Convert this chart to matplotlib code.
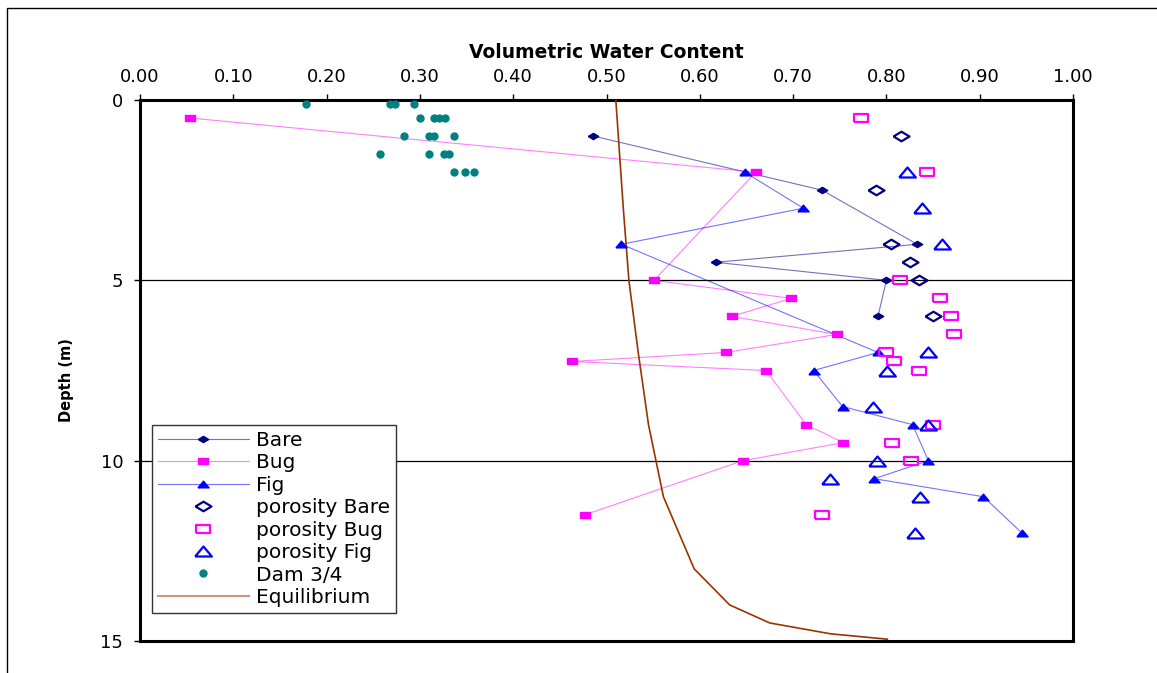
import matplotlib
matplotlib.use("Agg")
import matplotlib.pyplot as plt
from matplotlib.patches import Rectangle

plt.rcParams['font.family'] = ['DejaVu Sans']

# measured moisture profiles (depth in m, volumetric water content)
bare_depth = [1.0, 2.5, 4.0, 4.5, 5.0, 6.0]
bare_vwc = [0.486, 0.731, 0.833, 0.617, 0.800, 0.791]

bug_depth = [0.5, 2.0, 5.0, 5.5, 6.0, 6.5, 7.0, 7.25, 7.5, 9.0, 9.5, 10.0, 11.5]
bug_vwc = [0.054, 0.660, 0.551, 0.698, 0.634, 0.747, 0.628, 0.463, 0.671,
           0.714, 0.754, 0.646, 0.477]

fig_depth = [2.0, 3.0, 4.0, 7.0, 7.5, 8.5, 9.0, 10.0, 10.5, 11.0, 12.0]
fig_vwc = [0.648, 0.711, 0.516, 0.791, 0.722, 0.753, 0.828, 0.845, 0.787,
           0.904, 0.945]

# porosity at the same depths
por_bare_depth = [1.0, 2.5, 4.0, 4.5, 5.0, 6.0]
por_bare = [0.816, 0.789, 0.805, 0.825, 0.835, 0.850]

por_bug_depth = [0.5, 2.0, 5.0, 5.5, 6.0, 6.5, 7.0, 7.25, 7.5, 9.0, 9.5, 10.0, 11.5]
por_bug = [0.773, 0.844, 0.815, 0.857, 0.869, 0.872, 0.800, 0.808, 0.835,
           0.850, 0.806, 0.826, 0.731]

por_fig_depth = [2.0, 3.0, 4.0, 7.0, 7.5, 8.5, 9.0, 10.0, 10.5, 11.0, 12.0]
por_fig = [0.822, 0.838, 0.860, 0.845, 0.801, 0.786, 0.845, 0.790, 0.740,
           0.836, 0.831]

dam_depth = [0.1, 0.1, 0.1, 0.1,
             0.5, 0.5, 0.5, 0.5,
             1.0, 1.0, 1.0, 1.0,
             1.5, 1.5, 1.5, 1.5,
             2.0, 2.0, 2.0]
dam_vwc = [0.178, 0.268, 0.273, 0.294,
           0.300, 0.315, 0.321, 0.327,
           0.283, 0.310, 0.315, 0.337,
           0.257, 0.310, 0.326, 0.331,
           0.337, 0.348, 0.358]

eq_depth = [0, 3, 5, 7, 9, 11, 13, 14, 14.5, 14.8, 14.95]
eq_vwc = [0.510, 0.518, 0.524, 0.534, 0.545, 0.561, 0.594, 0.632, 0.675,
          0.740, 0.801]

# flattened marker shapes (the original is stretched sideways)
diamond = [(-1, 0), (0, 0.6), (1, 0), (0, -0.6), (-1, 0)]
rect = [(-1, -0.6), (1, -0.6), (1, 0.6), (-1, 0.6), (-1, -0.6)]
tri = [(-1, -0.6), (1, -0.6), (0, 0.6), (-1, -0.6)]

NAVY, MAGENTA, BLUE, TEAL, BROWN = '#000080', '#FF00FF', '#0000FF', '#008080', '#993300'
navy_line = (0, 0, 0.5, 0.55)
pink_line = (1, 0, 1, 0.5)
blue_line = (0, 0, 1, 0.55)

W, H = 1157, 673
fig = plt.figure(figsize=(W / 100, H / 100), dpi=100)
ax = fig.add_axes([140 / W, 1 - 641 / H, 933 / W, 541 / H])

# outer chart border
fig.patches.append(Rectangle((7 / W, -0.1), 1.2, 1 - 8 / H + 0.1, transform=fig.transFigure,
                             fill=False, edgecolor='black', linewidth=1))

for d in [5, 10]:
    ax.axhline(d, color='black', linewidth=0.9, zorder=1)

ax.plot(bare_vwc, bare_depth, color=navy_line, linewidth=0.8, zorder=2)
ax.plot(bare_vwc, bare_depth, linestyle='none', marker=diamond, markersize=7.5,
        color=NAVY, zorder=4)
ax.plot(bug_vwc, bug_depth, color=pink_line, linewidth=0.8, zorder=2)
ax.plot(bug_vwc, bug_depth, linestyle='none', marker=rect, markersize=6.5,
        color=MAGENTA, zorder=4)
ax.plot(fig_vwc, fig_depth, color=blue_line, linewidth=0.8, zorder=2)
ax.plot(fig_vwc, fig_depth, linestyle='none', marker=tri, markersize=8,
        color=BLUE, zorder=4)

ax.plot(por_bare, por_bare_depth, linestyle='none', marker=diamond, markersize=11.5,
        mfc='none', mec=NAVY, mew=1.6, zorder=4)
ax.plot(por_bug, por_bug_depth, linestyle='none', marker=rect, markersize=9.5,
        mfc='none', mec=MAGENTA, mew=1.6, zorder=4)
ax.plot(por_fig, por_fig_depth, linestyle='none', marker=tri, markersize=12,
        mfc='none', mec=BLUE, mew=1.6, zorder=4)

ax.plot(dam_vwc, dam_depth, linestyle='none', marker='o', markersize=5,
        color=TEAL, zorder=4)
ax.plot(eq_vwc, eq_depth, color=BROWN, linewidth=1.2, zorder=3)

ax.set_xlim(0, 1)
ax.set_ylim(15, 0)
ax.set_xticks([i / 10 for i in range(11)])
ax.set_xticklabels(['%.2f' % (i / 10) for i in range(11)])
ax.set_yticks([0, 5, 10, 15])
ax.xaxis.tick_top()
ax.tick_params(axis='both', direction='out', length=4, width=1, labelsize=13, pad=6)
ax.tick_params(axis='y', pad=8)
for s in ax.spines.values():
    s.set_linewidth(2.2)

fig.text(606 / W, 1 - 52 / H, 'Volumetric Water Content', ha='center', va='center',
         fontsize=13.5, fontweight='bold')
fig.text(67 / W, 1 - 380 / H, 'Depth (m)', ha='center', va='center', rotation=90,
         fontsize=10.5, fontweight='bold')

# legend handles
h = []
h += ax.plot([], [], color=navy_line, linewidth=0.8, marker=diamond,
             markersize=7.5, mfc=NAVY, mec=NAVY, label='Bare')
h += ax.plot([], [], color=pink_line, linewidth=0.8, marker=rect,
             markersize=6.5, mfc=MAGENTA, mec=MAGENTA, label='Bug')
h += ax.plot([], [], color=blue_line, linewidth=0.8, marker=tri,
             markersize=8, mfc=BLUE, mec=BLUE, label='Fig')
h += ax.plot([], [], linestyle='none', marker=diamond, markersize=11.5, mfc='none',
             mec=NAVY, mew=1.6, label='porosity Bare')
h += ax.plot([], [], linestyle='none', marker=rect, markersize=9.5, mfc='none',
             mec=MAGENTA, mew=1.6, label='porosity Bug')
h += ax.plot([], [], linestyle='none', marker=tri, markersize=12, mfc='none',
             mec=BLUE, mew=1.6, label='porosity Fig')
h += ax.plot([], [], linestyle='none', marker='o', markersize=5, color=TEAL,
             label='Dam 3/4')
h += ax.plot([], [], color=(0.6, 0.2, 0, 0.5), linewidth=1.5, label='Equilibrium')

leg = ax.legend(handles=h, loc='lower left', bbox_to_anchor=(0.0129, 0.0518),
                fontsize=14.5, frameon=True, fancybox=False, framealpha=1,
                edgecolor='#333333', handlelength=4.5, handletextpad=0.35,
                labelspacing=0.17, borderpad=0.3, borderaxespad=0)
leg.get_frame().set_linewidth(1)
leg.set_zorder(5)

fig.savefig('out.png', dpi=100)
